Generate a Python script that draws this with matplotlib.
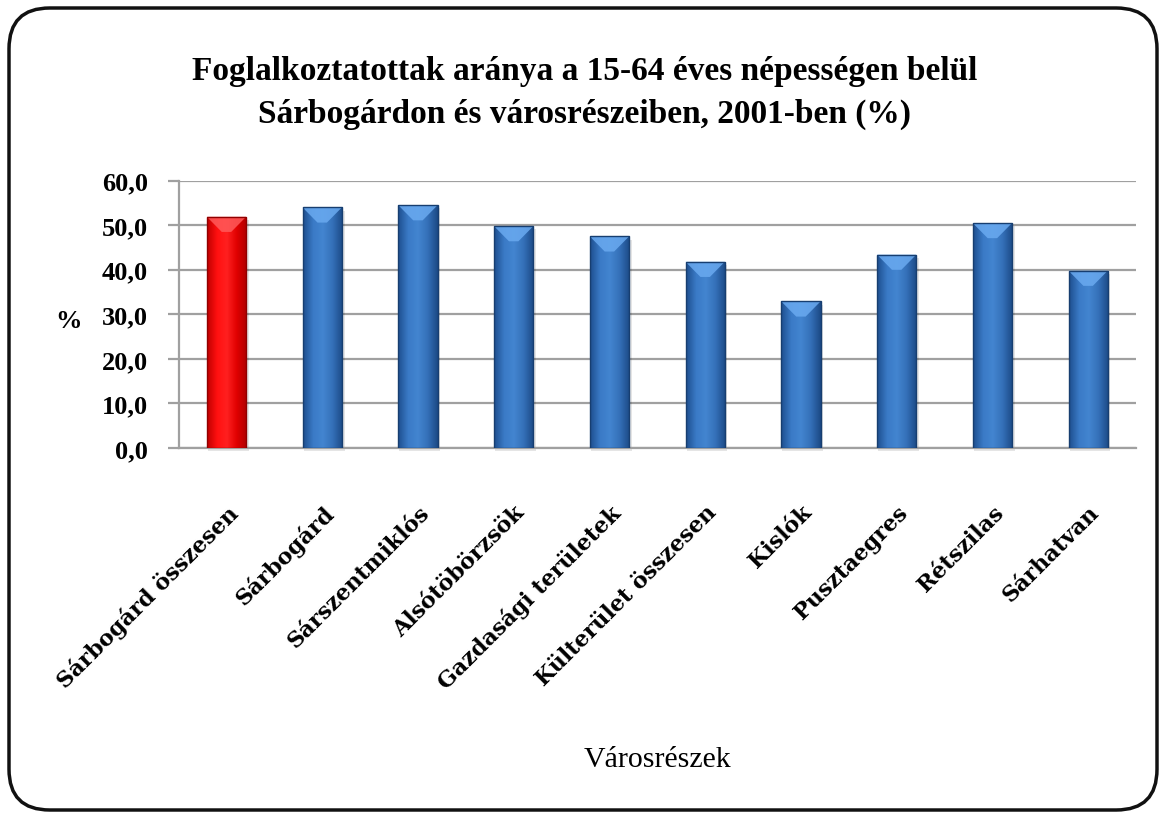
import numpy as np
import matplotlib
matplotlib.use("Agg")
import matplotlib.pyplot as plt
from matplotlib.patches import FancyBboxPatch
from matplotlib.colors import LinearSegmentedColormap

categories = ["Sárbogárd összesen", "Sárbogárd", "Sárszentmiklós", "Alsótöbörzsök",
              "Gazdasági területek", "Külterület összesen", "Kislók", "Pusztaegres",
              "Rétszilas", "Sárhatvan"]
values = [51.9, 54.0, 54.5, 49.8, 47.5, 41.8, 32.9, 43.4, 50.5, 39.8]
yticks = [0, 10, 20, 30, 40, 50, 60]
ytick_labels = ["0,0", "10,0", "20,0", "30,0", "40,0", "50,0", "60,0"]
title = "Foglalkoztatottak aránya a 15-64 éves népességen belül\nSárbogárdon és városrészeiben, 2001-ben (%)"
xlabel = "Városrészek"
ylabel = "%"

W, H = 1166, 820
fig = plt.figure(figsize=(W / 100, H / 100), dpi=100)
fig.patch.set_facecolor("white")

# rounded frame
frame = FancyBboxPatch((9 / W, 9 / H), (W - 18) / W, (H - 18) / H,
                       boxstyle="round,pad=0,rounding_size=0.035",
                       transform=fig.transFigure, facecolor="none",
                       edgecolor="#111111", linewidth=2.5, mutation_aspect=W / H)
fig.patches.append(frame)

ax = fig.add_axes([178.6 / W, 1 - 449 / H, (1136 - 178.6) / W, (449 - 181.7) / H])
ax.set_facecolor("white")

x = np.arange(len(categories))
colors = ["red"] + ["#3b78c4"] * (len(categories) - 1)
bars = ax.bar(x, values, width=0.41, color=colors, zorder=3, edgecolor="none")

grad_red = LinearSegmentedColormap.from_list("r", ["#c00000", "#ff1010", "#ff2020", "#e00000", "#b00000"])
grad_blue = LinearSegmentedColormap.from_list("b", ["#1e4f8f", "#3a7ac6", "#4385d0", "#3470b8", "#1c4a86"])
grad = np.linspace(0, 1, 64).reshape(1, -1)
for b, c in zip(bars, colors):
    x0, w, h = b.get_x(), b.get_width(), b.get_height()
    cmap = grad_red if c == "red" else grad_blue
    # soft shadow
    ax.bar(x0 + w / 2 + 0.02, h, width=w * 1.04, bottom=-0.7, color="#000000", alpha=0.10,
           zorder=2, edgecolor="none", clip_on=False)
    im = ax.imshow(grad, cmap=cmap, aspect="auto", extent=(x0, x0 + w, 0, h), zorder=4)
    im.set_clip_path(b)
    # top bevel highlight (chevron)
    top_col = "#ff5a5a" if c == "red" else "#6aaaf0"
    bev = 3.4
    ax.fill([x0, x0 + w, x0 + w * 0.62, x0 + w * 0.38], [h, h, h - bev, h - bev],
            color=top_col, zorder=5, lw=0, alpha=0.85)
    edge = "#900000" if c == "red" else "#173e70"
    ax.bar(x0 + w / 2, h, width=w, facecolor="none", edgecolor=edge, linewidth=1.0, zorder=6)

ax.set_xlim(-0.5, len(categories) - 0.5)
ax.set_ylim(0, 60)

ax.yaxis.grid(True, color="#a0a0a0", linewidth=1.6, zorder=1)
ax.set_axisbelow(True)
for s in ["top", "right"]:
    ax.spines[s].set_visible(False)
for s in ["left", "bottom"]:
    ax.spines[s].set_color("#a0a0a0")
    ax.spines[s].set_linewidth(1.6)

ax.set_yticks(yticks)
ax.set_yticklabels(ytick_labels, fontfamily="Liberation Serif", fontsize=19, fontweight="bold")
ax.tick_params(axis="y", length=8, width=1.6, color="#a0a0a0", pad=14)
ax.set_xticks(x)
ax.set_xticklabels(categories, rotation=45, ha="right", va="top", rotation_mode="anchor",
                   fontfamily="DejaVu Serif", fontsize=16, fontweight="bold")
ax.tick_params(axis="x", length=0, pad=38)

fig.text(585 / W, 1 - 93 / H, title, ha="center", va="center", fontfamily="Liberation Serif",
         fontsize=24, fontweight="bold", linespacing=1.45)
fig.text(68 / W, 1 - 322 / H, ylabel, ha="center", va="center", fontfamily="Liberation Serif",
         fontsize=19, fontweight="bold")
fig.text(657 / W, 1 - 760 / H, xlabel, ha="center", va="center", fontfamily="Liberation Serif",
         fontsize=21.5)

fig.savefig("out.png", dpi=100)
